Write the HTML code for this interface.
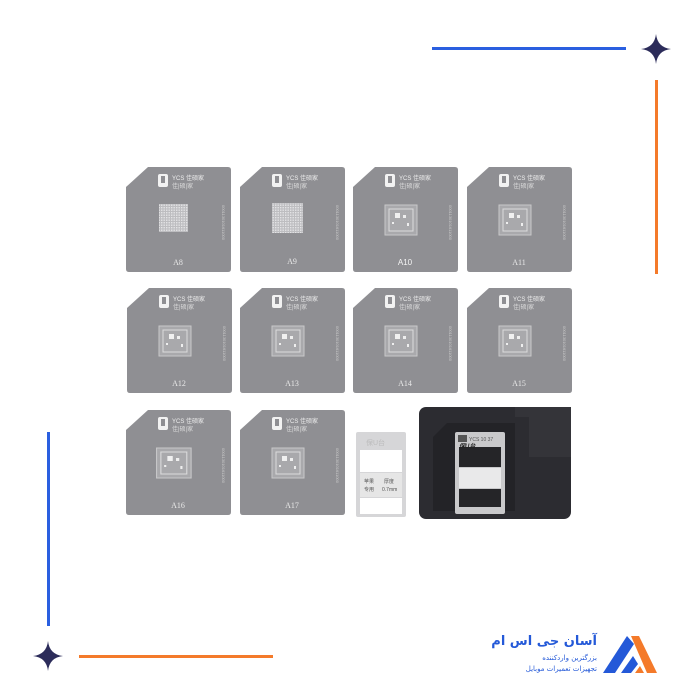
<!DOCTYPE html>
<html><head><meta charset="utf-8"><style>
html,body{margin:0;padding:0;background:#fff;width:700px;height:700px;overflow:hidden}
svg{display:block}
</style></head><body>
<svg width="700" height="700" viewBox="0 0 700 700" xmlns="http://www.w3.org/2000/svg" font-family="Liberation Sans, Noto Sans CJK SC, sans-serif">
<defs>
<g id="st">
<path d="M22 0 H102 Q105 0 105 3 V102 Q105 105 102 105 H3 Q0 105 0 102 V20 Z" fill="#8f8f93"/>
<rect x="32" y="7" width="10" height="13" rx="2" fill="#f2f2f2"/>
<rect x="35" y="9" width="4" height="7" fill="#8f8f93"/>
<text x="46" y="13" font-size="6" fill="#eee">YCS 佳硕家</text>
<text x="46" y="21" font-size="6" fill="#ddd">佳|硕|家</text>
<text transform="translate(96,38) rotate(90)" font-size="4" fill="#ccc">0001130101611000</text>
</g>
<pattern id="grid" width="2.5" height="2.5" patternUnits="userSpaceOnUse"><rect width="2.5" height="2.5" fill="#bdbdc0"/><rect width="1.4" height="1.4" fill="#e4e4e6"/></pattern>
<g id="chip">
<rect x="32" y="38" width="32" height="30" fill="#a9a9ac" stroke="#c8c8ca" stroke-width="1"/>
<rect x="36" y="42" width="24" height="22" fill="none" stroke="#dcdcdc" stroke-width="1"/>
<rect x="42" y="46" width="5" height="5" fill="#f0f0f0"/><rect x="50" y="48" width="3" height="3" fill="#eee"/><rect x="39" y="55" width="2" height="2" fill="#eee"/><rect x="54" y="56" width="2" height="3" fill="#eee"/>
</g>
</defs>
<rect x="432" y="47" width="194" height="3" fill="#2a5fe0"/>
<rect x="655" y="80" width="3" height="194" fill="#f47a2a"/>
<rect x="47" y="432" width="3" height="194" fill="#2a5fe0"/>
<rect x="79" y="655" width="194" height="3" fill="#f47a2a"/>
<path d="M656 34 Q657.5 47.5 671 49 Q657.5 50.5 656 64 Q654.5 50.5 641 49 Q654.5 47.5 656 34Z" fill="#2c2c5a"/>
<path d="M48 641 Q49.5 654.5 63 656 Q49.5 657.5 48 671 Q46.5 657.5 33 656 Q46.5 654.5 48 641Z" fill="#2c2c5a"/>
<g transform="translate(126,167)"><use href="#st"/><rect x="33" y="37" width="29" height="28" fill="url(#grid)"/><text x="52" y="98" font-size="8" fill="#e8e8e8" text-anchor="middle" font-family="Liberation Serif,serif">A8</text></g>
<g transform="translate(240,167)"><use href="#st"/><rect x="32" y="36" width="31" height="30" fill="url(#grid)"/><text x="52" y="97" font-size="8" fill="#e8e8e8" text-anchor="middle" font-family="Liberation Serif,serif">A9</text></g>
<g transform="translate(353,167)"><use href="#st"/><use href="#chip"/><text x="52" y="98" font-size="8" fill="#f4f4f4" text-anchor="middle">A10</text></g>
<g transform="translate(467,167)"><use href="#st"/><use href="#chip"/><text x="52" y="98" font-size="8" fill="#e8e8e8" text-anchor="middle" font-family="Liberation Serif,serif">A11</text></g>
<g transform="translate(127,288)"><use href="#st"/><use href="#chip"/><text x="52" y="98" font-size="8" fill="#e8e8e8" text-anchor="middle" font-family="Liberation Serif,serif">A12</text></g>
<g transform="translate(240,288)"><use href="#st"/><use href="#chip"/><text x="52" y="98" font-size="8" fill="#e8e8e8" text-anchor="middle" font-family="Liberation Serif,serif">A13</text></g>
<g transform="translate(353,288)"><use href="#st"/><use href="#chip"/><text x="52" y="98" font-size="8" fill="#e8e8e8" text-anchor="middle" font-family="Liberation Serif,serif">A14</text></g>
<g transform="translate(467,288)"><use href="#st"/><use href="#chip"/><text x="52" y="98" font-size="8" fill="#e8e8e8" text-anchor="middle" font-family="Liberation Serif,serif">A15</text></g>
<g transform="translate(126,410)"><use href="#st"/><g transform="translate(-4,0) scale(1.08,1)"><use href="#chip"/></g><text x="52" y="98" font-size="8" fill="#e8e8e8" text-anchor="middle" font-family="Liberation Serif,serif">A16</text></g>
<g transform="translate(240,410)"><use href="#st"/><use href="#chip"/><text x="52" y="98" font-size="8" fill="#e8e8e8" text-anchor="middle" font-family="Liberation Serif,serif">A17</text></g>
<g transform="translate(356,432)">
<rect width="50" height="85" rx="2" fill="#d6d6d8"/>
<rect x="4" y="18" width="42" height="22" fill="#fff"/>
<rect x="4" y="41" width="42" height="24" fill="#e6e6e6"/>
<rect x="4" y="66" width="42" height="16" fill="#fff"/>
<text x="10" y="13" font-size="7" fill="#bbb">保U台</text>
<text x="8" y="51" font-size="5" fill="#555">苹果</text><text x="8" y="59" font-size="5" fill="#555">专用</text>
<text x="28" y="51" font-size="5" fill="#555">厚度</text><text x="26" y="59" font-size="5" fill="#555">0.7mm</text>
</g>
<g transform="translate(419,407)">
<rect x="0" y="0" width="152" height="112" rx="7" fill="#2c2c31"/>
<path d="M36 0 H72 V12 H36Z" fill="#fff" opacity="0"/>
<path d="M14 30 L28 16 H96 V104 H14Z" fill="#232327"/>
<path d="M96 0 H152 V50 H110 V10 H96Z" fill="#343439"/>
<rect x="36" y="25" width="50" height="82" rx="2" fill="#c9c9cb"/>
<rect x="40" y="40" width="42" height="20" fill="#252528"/>
<rect x="40" y="61" width="42" height="20" fill="#e9e9ea"/>
<rect x="40" y="82" width="42" height="18" fill="#252528"/>
<rect x="39" y="28" width="9" height="7" fill="#555"/>
<text x="50" y="34" font-size="5" fill="#555">YCS 10 37</text>
<text x="40" y="41" font-size="6" fill="#222" font-style="italic" font-weight="bold">保U台</text>
</g>
<g transform="translate(603,636)">
<path d="M0 37 L24 0 L31 8 L12 37Z" fill="#2459d8"/>
<path d="M18 37 L30 20 L35 28 L28 37Z" fill="#2459d8"/>
<path d="M28 0 L36 0 L54 37 L44 37Z" fill="#f47a2a"/>
<path d="M32 37 L37 30 L41 37Z" fill="#f47a2a"/>
</g>
<text x="597" y="645" font-size="13" font-weight="bold" fill="#2459d8" text-anchor="end" font-family="DejaVu Sans,sans-serif">آسان جی اس ام</text>
<text x="597" y="660" font-size="7" fill="#2459d8" text-anchor="end" font-family="DejaVu Sans,sans-serif">بزرگترین واردکننده</text>
<text x="597" y="671" font-size="7" fill="#2459d8" text-anchor="end" font-family="DejaVu Sans,sans-serif">تجهیزات تعمیرات موبایل</text>
</svg>
</body></html>
